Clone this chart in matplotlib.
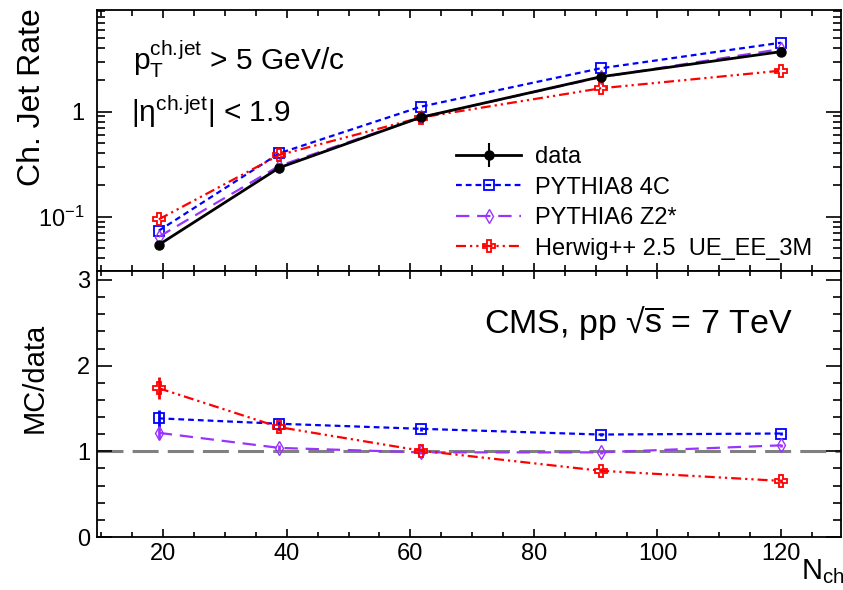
import numpy as np
import matplotlib
matplotlib.use("Agg")
import matplotlib.pyplot as plt
from matplotlib import ticker as tk

plt.rcParams['font.family'] = ['Liberation Sans', 'DejaVu Sans']
plt.rcParams['mathtext.fontset'] = 'custom'
plt.rcParams['mathtext.rm'] = 'Liberation Sans'
plt.rcParams['mathtext.it'] = 'Liberation Sans:italic'
plt.rcParams['mathtext.bf'] = 'Liberation Sans:bold'

# multiplicity bins (N_ch)
n_ch = [19.3, 38.8, 61.7, 90.8, 120.0]

# charged jet rate
rate_data = [0.054, 0.293, 0.884, 2.15, 3.73]
rate_py8 = [0.0736, 0.402, 1.116, 2.59, 4.54]
rate_py6 = [0.0644, 0.305, 0.884, 2.13, 3.95]
rate_hw = [0.0944, 0.387, 0.88, 1.67, 2.46]

# MC / data ratios
ratio_py8 = [1.385, 1.322, 1.263, 1.196, 1.208]
ratio_py6 = [1.216, 1.04, 0.988, 0.988, 1.07]
ratio_hw = [1.737, 1.282, 1.008, 0.773, 0.655]
err_py8 = [0.10, 0.03, 0.02, 0.02, 0.02]
err_py6 = [0.07, 0.03, 0.02, 0.02, 0.02]
err_hw = [0.13, 0.05, 0.03, 0.03, 0.02]

labels = ["data", "PYTHIA8 4C", "PYTHIA6 Z2*", "Herwig++ 2.5  UE_EE_3M"]

c_py8 = '#0000ff'
c_py6 = '#9933ff'
c_hw = '#ff0000'

W, H = 843, 590
fig = plt.figure(figsize=(W / 100, H / 100), dpi=100)


def px(x0, y0, x1, y1):
    # pixel box -> figure fraction rect
    return [x0 / W, 1 - y1 / H, (x1 - x0) / W, (y1 - y0) / H]


def style_axes(ax, xmaj, xmin, ymaj, ymin):
    for s in ax.spines.values():
        s.set_linewidth(1.3)
    ax.tick_params(which='both', direction='in', top=True, right=True, width=1.2)
    ax.tick_params(axis='y', which='major', length=ymaj, labelsize=17)
    ax.tick_params(axis='y', which='minor', length=ymin)
    ax.tick_params(axis='x', which='major', length=xmaj, labelsize=17, pad=4)
    ax.tick_params(axis='x', which='minor', length=xmin)


def show_chart():
    ax_top = fig.add_axes(px(97, 10, 841, 271))
    ax_low = fig.add_axes(px(97, 271, 841, 537), sharex=ax_top)

    # ---- upper panel: rates
    h_data = ax_top.errorbar(n_ch, rate_data, yerr=[v * 0.02 for v in rate_data],
                             color='k', lw=2.0, marker='o', ms=6.5, capsize=0,
                             elinewidth=1.5, zorder=5)
    h_py8, = ax_top.plot(n_ch, rate_py8, color=c_py8, lw=1.6, ls=(0, (2.6, 1.8)),
                         marker='s', ms=7, mfc='none', mew=1.3)
    h_py6, = ax_top.plot(n_ch, rate_py6, color=c_py6, lw=1.6, ls=(0, (6, 3.5)),
                         marker='d', ms=7, mfc='none', mew=1.0)
    h_hw, = ax_top.plot(n_ch, rate_hw, color=c_hw, lw=1.6,
                        ls=(0, (4.5, 1.8, 1, 1.8, 1, 1.8)),
                        marker='P', ms=9, mfc='none', mew=1.3)

    ax_top.set_yscale('log')
    ax_top.set_ylim(0.0304, 9.3)
    ax_top.set_xlim(9.3, 129.7)
    ax_top.yaxis.set_major_locator(tk.FixedLocator([0.1, 1]))
    ax_top.yaxis.set_minor_locator(tk.LogLocator(base=10, subs=np.arange(2, 10), numticks=20))
    ax_top.yaxis.set_minor_formatter(tk.NullFormatter())

    def fmt_log(v, pos):
        if abs(v - 1) < 1e-9:
            return '1'
        return r'$\mathregular{10^{-1}}$'
    ax_top.yaxis.set_major_formatter(tk.FuncFormatter(fmt_log))
    style_axes(ax_top, 6, 4, 11, 5.5)
    ax_top.tick_params(axis='y', which='major', pad=9)
    ax_top.tick_params(axis='x', labelbottom=False)

    ax_top.text(0.0484, 0.770, r'$\mathregular{p_{T}^{ch.\!jet}}$ > 5 GeV/c',
                transform=ax_top.transAxes, fontsize=21.5, va='baseline')
    ax_top.text(0.046, 0.571, r'$\mathregular{|\eta^{ch.\!jet}|}$ < 1.9',
                transform=ax_top.transAxes, fontsize=21.5, va='baseline')

    ax_top.legend([h_data, h_py8, h_py6, h_hw], labels,
                  loc='upper left', bbox_to_anchor=(0.483, 0.478), frameon=False,
                  fontsize=17, handlelength=2.75, handletextpad=0.6,
                  labelspacing=0.36, borderpad=0, borderaxespad=0)

    # ---- lower panel: MC/data
    ax_low.axhline(1.0, color='#808080', lw=2.2, ls=(0, (8.5, 3)), zorder=1)
    ax_low.errorbar(n_ch, ratio_py8, yerr=err_py8, color=c_py8, lw=1.6,
                    ls=(0, (2.6, 1.8)), marker='s', ms=7, mfc='none', mew=1.3,
                    capsize=0, elinewidth=2)
    ax_low.errorbar(n_ch, ratio_py6, yerr=err_py6, color=c_py6, lw=1.6,
                    ls=(0, (6, 3.5)), marker='d', ms=7, mfc='none', mew=1.0,
                    capsize=0, elinewidth=2)
    ax_low.errorbar(n_ch, ratio_hw, yerr=err_hw, color=c_hw, lw=1.6,
                    ls=(0, (4.5, 1.8, 1, 1.8, 1, 1.8)), marker='P', ms=9,
                    mfc='none', mew=1.3, capsize=0, elinewidth=2)

    ax_low.set_ylim(0, 3.105)
    ax_low.yaxis.set_major_locator(tk.MultipleLocator(1))
    ax_low.yaxis.set_minor_locator(tk.MultipleLocator(0.2))
    ax_low.xaxis.set_major_locator(tk.MultipleLocator(20))
    ax_low.xaxis.set_minor_locator(tk.MultipleLocator(5))
    style_axes(ax_low, 6, 3.5, 11, 5.5)
    ax_low.tick_params(axis='y', which='major', pad=5)

    ax_low.text(0.52, 0.767, r'CMS, pp √$\mathregular{\overline{s}}$ = 7 TeV',
                transform=ax_low.transAxes, fontsize=24.5, va='baseline')

    # axis titles
    fig.text(32 / W, 1 - 8 / H, 'Ch. Jet Rate', rotation=90, fontsize=23,
             ha='center', va='top')
    fig.text(35 / W, 1 - 378 / H, 'MC/data', rotation=90, fontsize=21,
             ha='center', va='center')
    fig.text(801 / W, 1 - 579 / H, r'$\mathregular{N_{ch}}$', fontsize=21,
             ha='left', va='baseline')

    fig.savefig("out.png", dpi=100)


def main():
    show_chart()


if __name__ == "__main__":
    main()
